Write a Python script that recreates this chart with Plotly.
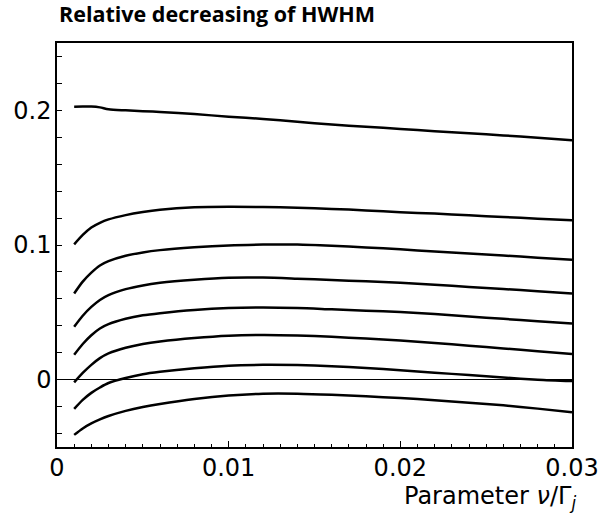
import plotly.graph_objects as go

x_vals = [0.001, 0.0015, 0.002, 0.0025, 0.003, 0.004, 0.005, 0.006, 0.008, 0.010,
          0.012, 0.014, 0.016, 0.018, 0.020, 0.022, 0.024, 0.026, 0.028, 0.030]

curve_1 = [0.2027, 0.2028, 0.2028, 0.2022, 0.2008, 0.2000, 0.1994, 0.1988, 0.1972, 0.1953,
           0.1936, 0.1915, 0.1895, 0.1878, 0.1862, 0.1845, 0.1829, 0.1814, 0.1796, 0.1778]
curve_2 = [0.1005, 0.1075, 0.1130, 0.1165, 0.1190, 0.1222, 0.1245, 0.1262, 0.1280, 0.1284,
           0.1282, 0.1277, 0.1268, 0.1257, 0.1244, 0.1233, 0.1220, 0.1208, 0.1195, 0.1183]
curve_3 = [0.0640, 0.0728, 0.0795, 0.0848, 0.0880, 0.0920, 0.0945, 0.0962, 0.0983, 0.0997,
           0.1003, 0.1004, 0.0995, 0.0982, 0.0968, 0.0952, 0.0937, 0.0922, 0.0906, 0.0891]
curve_4 = [0.0393, 0.0475, 0.0540, 0.0592, 0.0628, 0.0672, 0.0700, 0.0719, 0.0742, 0.0757,
           0.0758, 0.0750, 0.0740, 0.0730, 0.0720, 0.0705, 0.0689, 0.0673, 0.0657, 0.0640]
curve_5 = [0.0185, 0.0265, 0.0330, 0.0380, 0.0412, 0.0452, 0.0478, 0.0494, 0.0518, 0.0532,
           0.0536, 0.0532, 0.0522, 0.0512, 0.0502, 0.0487, 0.0469, 0.0452, 0.0434, 0.0417]
curve_6 = [-0.0020, 0.0050, 0.0110, 0.0160, 0.0195, 0.0237, 0.0265, 0.0284, 0.0310, 0.0327,
           0.0332, 0.0328, 0.0318, 0.0305, 0.0290, 0.0272, 0.0252, 0.0232, 0.0211, 0.0190]
curve_7 = [-0.0217, -0.0150, -0.0098, -0.0058, -0.0025, 0.0012, 0.0040, 0.0058, 0.0085, 0.0104,
           0.0110, 0.0108, 0.0100, 0.0087, 0.0070, 0.0052, 0.0034, 0.0016, 0.0000, -0.0010]
curve_8 = [-0.0410, -0.0362, -0.0325, -0.0295, -0.0270, -0.0232, -0.0203, -0.0180, -0.0143, -0.0117,
           -0.0104, -0.0104, -0.0112, -0.0124, -0.0137, -0.0152, -0.0171, -0.0190, -0.0215, -0.0242]

x_tickvals = [0, 0.01, 0.02, 0.03]
x_ticktext = ["0", "0.01", "0.02", "0.03"]
y_tickvals = [0, 0.1, 0.2]
y_ticktext = ["0", "0.1", "0.2"]

title_text = "Relative decreasing of HWHM"
xaxis_text = "Parameter <i>ν</i>/Γ<sub><i>j</i></sub>"

fig = go.Figure()
for c in [curve_1, curve_2, curve_3, curve_4, curve_5, curve_6, curve_7, curve_8]:
    fig.add_trace(go.Scatter(x=x_vals, y=c, mode="lines",
                             line=dict(color="black", width=2.5, shape="spline", smoothing=0.8),
                             showlegend=False, hoverinfo="skip"))

tick_font = dict(family="DejaVu Sans", size=24, color="black")

fig.update_layout(
    width=600, height=519,
    margin=dict(l=57, r=28, t=43, b=72),
    paper_bgcolor="white", plot_bgcolor="white",
    showlegend=False,
    xaxis=dict(range=[0, 0.03], tickvals=x_tickvals, ticktext=x_ticktext,
               ticks="inside", ticklen=6, tickwidth=1, tickcolor="black",
               minor=dict(dtick=0.001, tick0=0, ticks="inside", ticklen=3, tickwidth=1,
                          tickcolor="black", showgrid=False),
               showline=True, linecolor="black", linewidth=1.5, mirror=True,
               showgrid=False, zeroline=False, tickfont=tick_font, ticklabelstandoff=-2,
               automargin=False),
    yaxis=dict(range=[-0.05, 0.25], tickvals=y_tickvals, ticktext=y_ticktext,
               ticks="inside", ticklen=5, tickwidth=1, tickcolor="black",
               minor=dict(dtick=0.02, tick0=0, ticks="inside", ticklen=5, tickwidth=1,
                          tickcolor="black", showgrid=False),
               showline=True, linecolor="black", linewidth=1.5, mirror=True,
               showgrid=False, zeroline=True, zerolinecolor="black", zerolinewidth=1,
               tickfont=tick_font, ticklabelstandoff=-1, automargin=False),
    annotations=[
        dict(text=title_text, xref="paper", yref="paper", x=0, y=1 + 29 / 404,
             xanchor="left", yanchor="middle", showarrow=False,
             font=dict(family="Open Sans", size=21.5, color="black", weight=700)),
        dict(text=xaxis_text, xref="paper", yref="paper", x=1, y=-50 / 404, xshift=6,
             xanchor="right", yanchor="middle", showarrow=False,
             font=dict(family="DejaVu Sans", size=24, color="black")),
    ],
)

fig.write_html("out.html", config={"displayModeBar": False},
               post_script="document.body.style.margin='0';")
